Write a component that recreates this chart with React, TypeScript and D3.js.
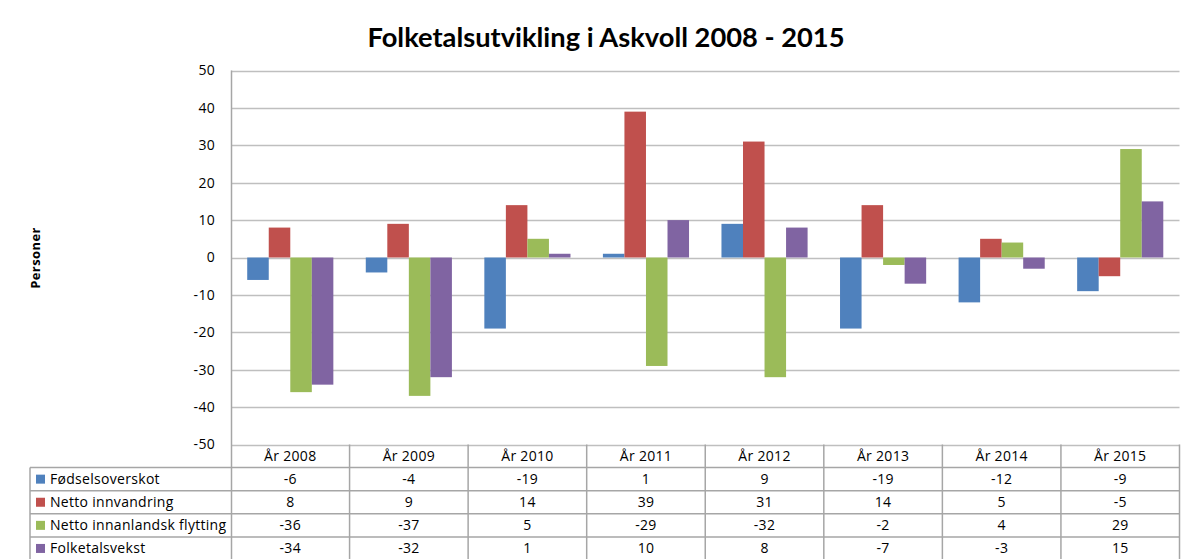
import React, { useEffect, useRef } from "react";
import * as d3 from "d3";

const title = "Folketalsutvikling i Askvoll 2008 - 2015";
const yLabel = "Personer";
const categories = ["År 2008", "År 2009", "År 2010", "År 2011", "År 2012", "År 2013", "År 2014", "År 2015"];
const seriesNames = ["Fødselsoverskot", "Netto innvandring", "Netto innanlandsk flytting", "Folketalsvekst"];
const fodselsoverskot = [-6, -4, -19, 1, 9, -19, -12, -9];
const nettoInnvandring = [8, 9, 14, 39, 31, 14, 5, -5];
const nettoInnanlandsk = [-36, -37, 5, -29, -32, -2, 4, 29];
const folketalsvekst = [-34, -32, 1, 10, 8, -7, -3, 15];
const colors = ["#4F81BD", "#C0504D", "#9BBB59", "#8064A2"];
const yTicks = [50, 40, 30, 20, 10, 0, -10, -20, -30, -40, -50];

const W = 1187;
const H = 559;
const TITLE_FONT = "Lato, 'Open Sans', sans-serif";
const FONT = "'Open Sans', Lato, sans-serif";
const FS = 14;
const LS = 0.3;

export default function App() {
  const ref = useRef<SVGSVGElement | null>(null);
  useEffect(() => {
    const svg = d3.select(ref.current);
    svg.selectAll("*").remove();
    const series = [fodselsoverskot, nettoInnvandring, nettoInnanlandsk, folketalsvekst];

    const left = 231, right = 1179.5, top = 70.5, bottom = 444.5;
    const cat = d3.scaleBand<string>().domain(categories).range([left, right]);
    const inner = d3.scaleBand<number>().domain([0, 1, 2, 3]).range([0, cat.bandwidth()]).paddingInner(0).paddingOuter(0.753);
    const y = d3.scaleLinear().domain([-50, 50]).range([bottom, top]);

    const gridColor = "#BFBFBF";
    svg.append("g").selectAll("line").data(yTicks).join("line")
      .attr("x1", left).attr("x2", right)
      .attr("y1", d => Math.round(y(d)) + 0.5).attr("y2", d => Math.round(y(d)) + 0.5)
      .attr("stroke", gridColor).attr("stroke-width", 1.5);

    svg.append("g").selectAll("text").data(yTicks).join("text")
      .attr("x", 215).attr("y", d => y(d)).attr("dy", "0.35em")
      .attr("text-anchor", "end").attr("font-family", FONT).attr("font-size", FS)
      .attr("letter-spacing", LS)
      .attr("fill", "#000").text(d => String(d));

    series.forEach((vals, si) => {
      svg.append("g").selectAll("rect").data(vals).join("rect")
        .attr("x", (d, i) => (cat(categories[i]) as number) + (inner(si) as number))
        .attr("width", inner.bandwidth())
        .attr("y", d => y(Math.max(0, d)))
        .attr("height", d => Math.abs(y(d) - y(0)))
        .attr("fill", colors[si]);
    });

    svg.append("line").attr("x1", left + 0.5).attr("x2", left + 0.5).attr("y1", top).attr("y2", H)
      .attr("stroke", "#A6A6A6").attr("stroke-width", 1.5);

    const rowTop = bottom;
    const rowH = 23.1;
    const tableLeft = 30;
    const tbl = svg.append("g");
    for (let r = 1; r <= 5; r++) {
      const yy = rowTop + r * rowH;
      tbl.append("line").attr("x1", tableLeft).attr("x2", right).attr("y1", yy).attr("y2", yy)
        .attr("stroke", "#A6A6A6").attr("stroke-width", 1.5);
    }
    categories.forEach((c) => {
      const xx = (cat(c) as number) + cat.bandwidth();
      tbl.append("line").attr("x1", xx).attr("x2", xx).attr("y1", rowTop).attr("y2", H)
        .attr("stroke", "#A6A6A6").attr("stroke-width", 1.5);
    });
    tbl.append("line").attr("x1", tableLeft).attr("x2", tableLeft).attr("y1", rowTop + rowH).attr("y2", H)
      .attr("stroke", "#A6A6A6").attr("stroke-width", 1.5);

    tbl.selectAll("text.h").data(categories).join("text").attr("class", "h")
      .attr("x", d => (cat(d) as number) + cat.bandwidth() / 2)
      .attr("y", rowTop + rowH / 2).attr("dy", "0.35em")
      .attr("text-anchor", "middle").attr("font-family", FONT).attr("font-size", FS)
      .attr("letter-spacing", LS)
      .text(d => d);

    series.forEach((vals, si) => {
      const cy = rowTop + (si + 1) * rowH + rowH / 2;
      tbl.append("rect").attr("x", 36).attr("y", cy - 4.5).attr("width", 9).attr("height", 9).attr("fill", colors[si]);
      tbl.append("text").attr("x", 50).attr("y", cy).attr("dy", "0.35em")
        .attr("font-family", FONT).attr("font-size", FS).attr("letter-spacing", LS).text(seriesNames[si]);
      tbl.append("g").selectAll("text").data(vals).join("text")
        .attr("x", (d, i) => (cat(categories[i]) as number) + cat.bandwidth() / 2)
        .attr("y", cy).attr("dy", "0.35em")
        .attr("text-anchor", "middle").attr("font-family", FONT).attr("font-size", FS)
        .attr("letter-spacing", LS)
        .text(d => String(d));
    });

    svg.append("text").attr("x", 606).attr("y", 46.5).attr("text-anchor", "middle")
      .attr("font-family", TITLE_FONT).attr("font-weight", "bold").attr("font-size", 26)
      .attr("textLength", 477).attr("lengthAdjust", "spacingAndGlyphs")
      .text(title);

    svg.append("text").attr("transform", `translate(39.5,258) rotate(-90)`)
      .attr("text-anchor", "middle").attr("font-family", FONT).attr("font-weight", "bold")
      .attr("font-size", 13).attr("letter-spacing", 0.4).text(yLabel);
  }, []);

  return (
    <svg ref={ref} width={W} height={H} style={{ position: "absolute", left: 0, top: 0, background: "#fff" }} />
  );
}
